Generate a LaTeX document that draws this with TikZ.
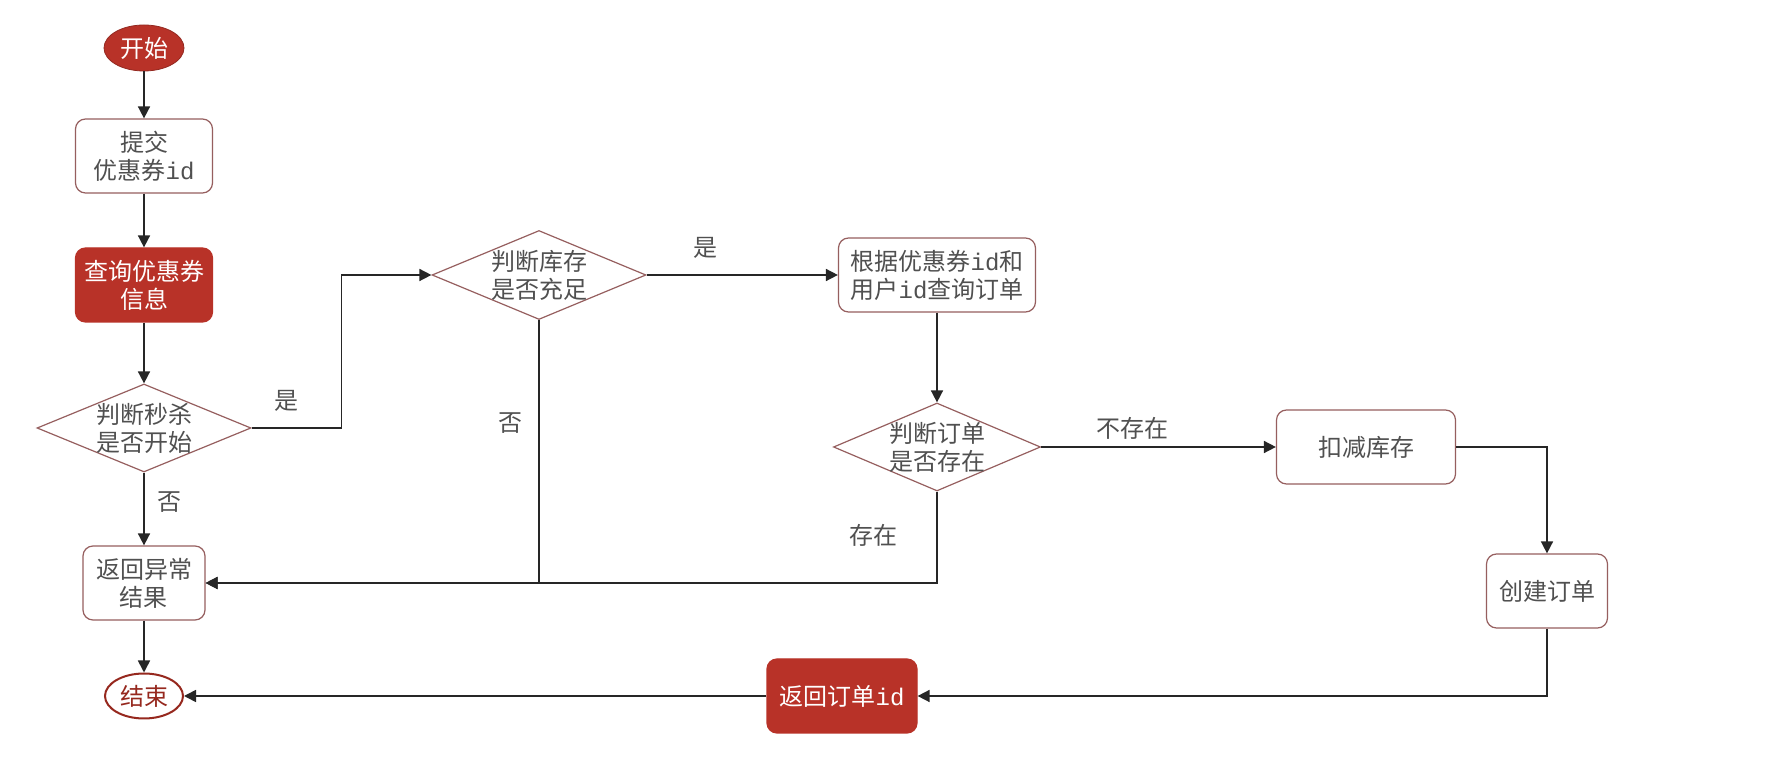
\documentclass[tikz,border=0pt]{standalone}
\usepackage{fontspec}
\newfontfamily\cjk{Noto Sans CJK SC}
\newfontfamily\idfont{Liberation Mono}
\usetikzlibrary{shapes.geometric,arrows.meta,positioning,calc}
\definecolor{redfill}{RGB}{184,50,40}
\definecolor{boxline}{RGB}{150,95,95}
\definecolor{txtgray}{RGB}{80,80,80}
\definecolor{endred}{RGB}{150,40,30}

\begin{document}
\begin{tikzpicture}[x=0.5pt,y=-0.5pt, font=\cjk\fontsize{12}{14}\selectfont,
  box/.style={draw=boxline, line width=0.6pt, rounded corners=5pt, fill=white,
    text=txtgray, align=center, minimum height=37pt, inner sep=2pt},
  redbox/.style={box, draw=redfill, fill=redfill, text=white},
  decision/.style={diamond, draw=boxline, line width=0.6pt, fill=white, inner sep=0pt},
  dtext/.style={text=txtgray, align=center},
  startend/.style={ellipse, inner sep=0pt},
  arr/.style={-{Triangle[length=6pt,width=6pt]}, line width=0.8pt, draw=black!85},
  lbl/.style={text=txtgray}]
  % canvas
  \fill[white] (0,0) rectangle (1784,763);

  % left column
  \node[startend, fill=redfill, draw=redfill!80!black, text=white,
    minimum width=40pt, minimum height=23pt] (start) at (144,48) {开始};
  \node[box, minimum width=68.5pt] (submit) at (144,156) {提交\\优惠券{\idfont id}};
  \node[redbox, minimum width=68.5pt] (query) at (144,285) {查询优惠券\\信息};
  \node[decision, minimum width=107pt, minimum height=44pt] (j1) at (144,428) {};
  \node[dtext] (j1t) at (j1) {判断秒杀\\是否开始};
  \node[box, minimum width=61pt] (err) at (144,583) {返回异常\\结果};
  \node[startend, draw=endred, line width=1pt, fill=white, text=endred,
    minimum width=39pt, minimum height=22.5pt] (end) at (144,696) {结束};

  % middle and right
  \node[decision, minimum width=107pt, minimum height=44.5pt] (j2) at (539,275) {};
  \node[dtext] (j2t) at (j2) {判断库存\\是否充足};
  \node[box, minimum width=98.5pt] (find) at (937,275) {根据优惠券{\idfont id}和\\用户{\idfont id}查询订单};
  \node[decision, minimum width=103.5pt, minimum height=44pt] (j3) at (937,447) {};
  \node[dtext] (j3t) at (j3) {判断订单\\是否存在};
  \node[box, minimum width=89.5pt] (deduct) at (1366,447) {扣减库存};
  \node[box, minimum width=60.5pt] (create) at (1547,591) {创建订单};
  \node[redbox, minimum width=75pt] (retid) at (842,696) {返回订单{\idfont id}};

  % connectors
  \draw[arr] (start) -- (submit);
  \draw[arr] (submit) -- (query);
  \draw[arr] (query) -- (j1);
  \draw[arr] (j1.east) -| ($(j1.east)!.5!(j2.west)$) |- (j2.west);
  \draw[arr] (j1) -- (err);
  \draw[arr] (j2.east) -- (find.west);
  \draw[arr] (j2.south) |- (err.east);
  \draw[arr] (find) -- (j3);
  \draw[arr] (j3.south) |- (err.east);
  \draw[arr] (j3.east) -- (deduct.west);
  \draw[arr] (deduct.east) -| (create.north);
  \draw[arr] (create.south) |- (retid.east);
  \draw[arr] (retid) -- (end);
  \draw[arr] (err) -- (end);

  % branch labels
  \node[lbl] (yes1) at (286,401) {是};
  \node[lbl] (no1) at (169,502) {否};
  \node[lbl] (yes2) at (705,248) {是};
  \node[lbl] (no2) at (510,423) {否};
  \node[lbl] (has) at (873,535) {存在};
  \node[lbl] (hasnot) at (1132,428) {不存在};
\end{tikzpicture}
\end{document}
